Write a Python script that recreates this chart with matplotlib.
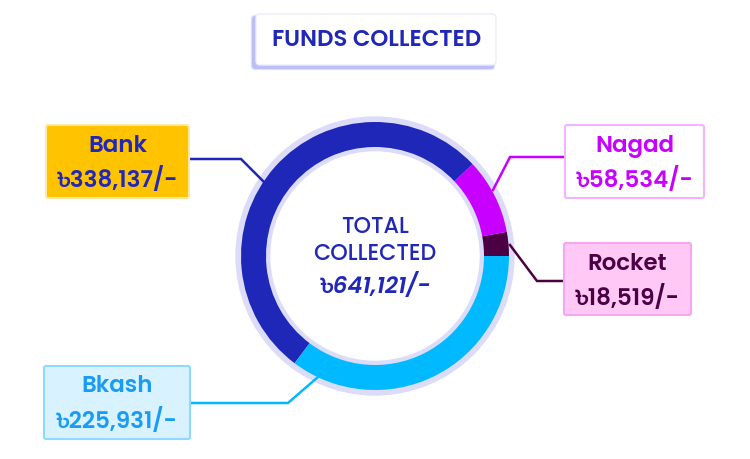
import matplotlib
matplotlib.use("Agg")
import matplotlib.pyplot as plt
from matplotlib.patches import FancyBboxPatch, Circle

plt.rcParams['font.family'] = ['Poppins', 'Hind Siliguri', 'DejaVu Sans']

# data
labels = ["Rocket", "Nagad", "Bank", "Bkash"]
values = [18519, 58534, 338137, 225931]
colors = ["#4b0044", "#c800ff", "#1f27b8", "#00b9ff"]
title = "FUNDS COLLECTED"
total_label = ["TOTAL", "COLLECTED"]
total_value = "৳641,121/-"

H = 460
cx, cy = 375, H - 257

fig = plt.figure(figsize=(7.5, 4.6), dpi=100)
ax = fig.add_axes([0, 0, 1, 1])

# lavender background ring
ax.add_patch(Circle((cx, cy), 139, color="#dcdcf8", zorder=1))
ax.add_patch(Circle((cx, cy), 104, color="white", zorder=1))

ax.pie(values, colors=colors, startangle=0, counterclock=True, radius=134,
       center=(cx, cy), wedgeprops=dict(width=25, linewidth=0, zorder=2))

# centre text
ax.text(cx, H - 228, total_label[0], ha="center", va="center", fontsize=16,
        fontweight="medium", color="#2128b8", zorder=3)
ax.text(cx, H - 254, total_label[1], ha="center", va="center", fontsize=16,
        fontweight="medium", color="#2128b8", zorder=3)
ax.text(cx + 1, H - 286, total_value, ha="center", va="center", fontsize=16.5,
        color="#2128b8", fontweight="semibold", style="italic", zorder=3)

# title box with soft shadow
for i, a in enumerate([0.06, 0.1, 0.15, 0.22]):
    d = 5 - i
    ax.add_patch(FancyBboxPatch((256 - 3 - d * 0.5, H - 66 - 3 - d * 0.5), 240 + d, 51 + d,
                                boxstyle="round,pad=0,rounding_size=4",
                                fc="#6f6ff0", ec="none", alpha=a, zorder=4))
ax.add_patch(FancyBboxPatch((256, H - 66), 240, 51, boxstyle="round,pad=0,rounding_size=4",
                            fc="white", ec="#ececfb", lw=1, zorder=5))
ax.text(377, H - 41, title, ha="center", va="center", fontsize=16.5,
        fontweight="semibold", color="#2128b8", zorder=6)

# label boxes: (name, value, x0, y0(top), w, h, face, edge, text colour, line pts)
boxes = [
    ("Bank", values[2], 46, 126, 143, 73, "#ffc300", "#ffe8a0", "#2128b8",
     [(189, 160), (241, 160), (264, 183)]),
    ("Nagad", values[1], 565, 126, 139, 73, "white", "#f2b3ff", "#c800ff",
     [(565, 158), (510, 158), (493, 191)]),
    ("Rocket", values[0], 564, 244, 127, 72, "#ffc8f5", "#f5a6ee", "#4b0044",
     [(564, 282), (537, 282), (510, 246)]),
    ("Bkash", values[3], 44, 367, 146, 73, "#d8f3ff", "#8fd9ff", "#1a9cf5",
     [(190, 404), (288, 404), (318, 378)]),
]

for name, val, x0, y0, w, h, fc, ec, tc, pts in boxes:
    ax.add_patch(FancyBboxPatch((x0, H - y0 - h), w, h, boxstyle="round,pad=0,rounding_size=2",
                                fc=fc, ec=ec, lw=1.5, zorder=4))
    xm = x0 + w / 2
    ax.text(xm, H - y0 - 20, name, ha="center", va="center", fontsize=16.5,
            fontweight="semibold", color=tc, zorder=5)
    ax.text(xm, H - y0 - 54, "৳{:,}/-".format(val), ha="center", va="center", fontsize=16.5,
            fontweight="semibold", color=tc, zorder=5)
    xs = [p[0] for p in pts]
    ys = [H - p[1] for p in pts]
    ax.plot(xs, ys, color=colors[labels.index(name)], lw=1.8, zorder=3,
            solid_joinstyle="miter")

ax.set_xlim(0, 750)
ax.set_ylim(0, H)
ax.set_aspect("equal")
ax.axis("off")

fig.savefig("out.png", dpi=100)
